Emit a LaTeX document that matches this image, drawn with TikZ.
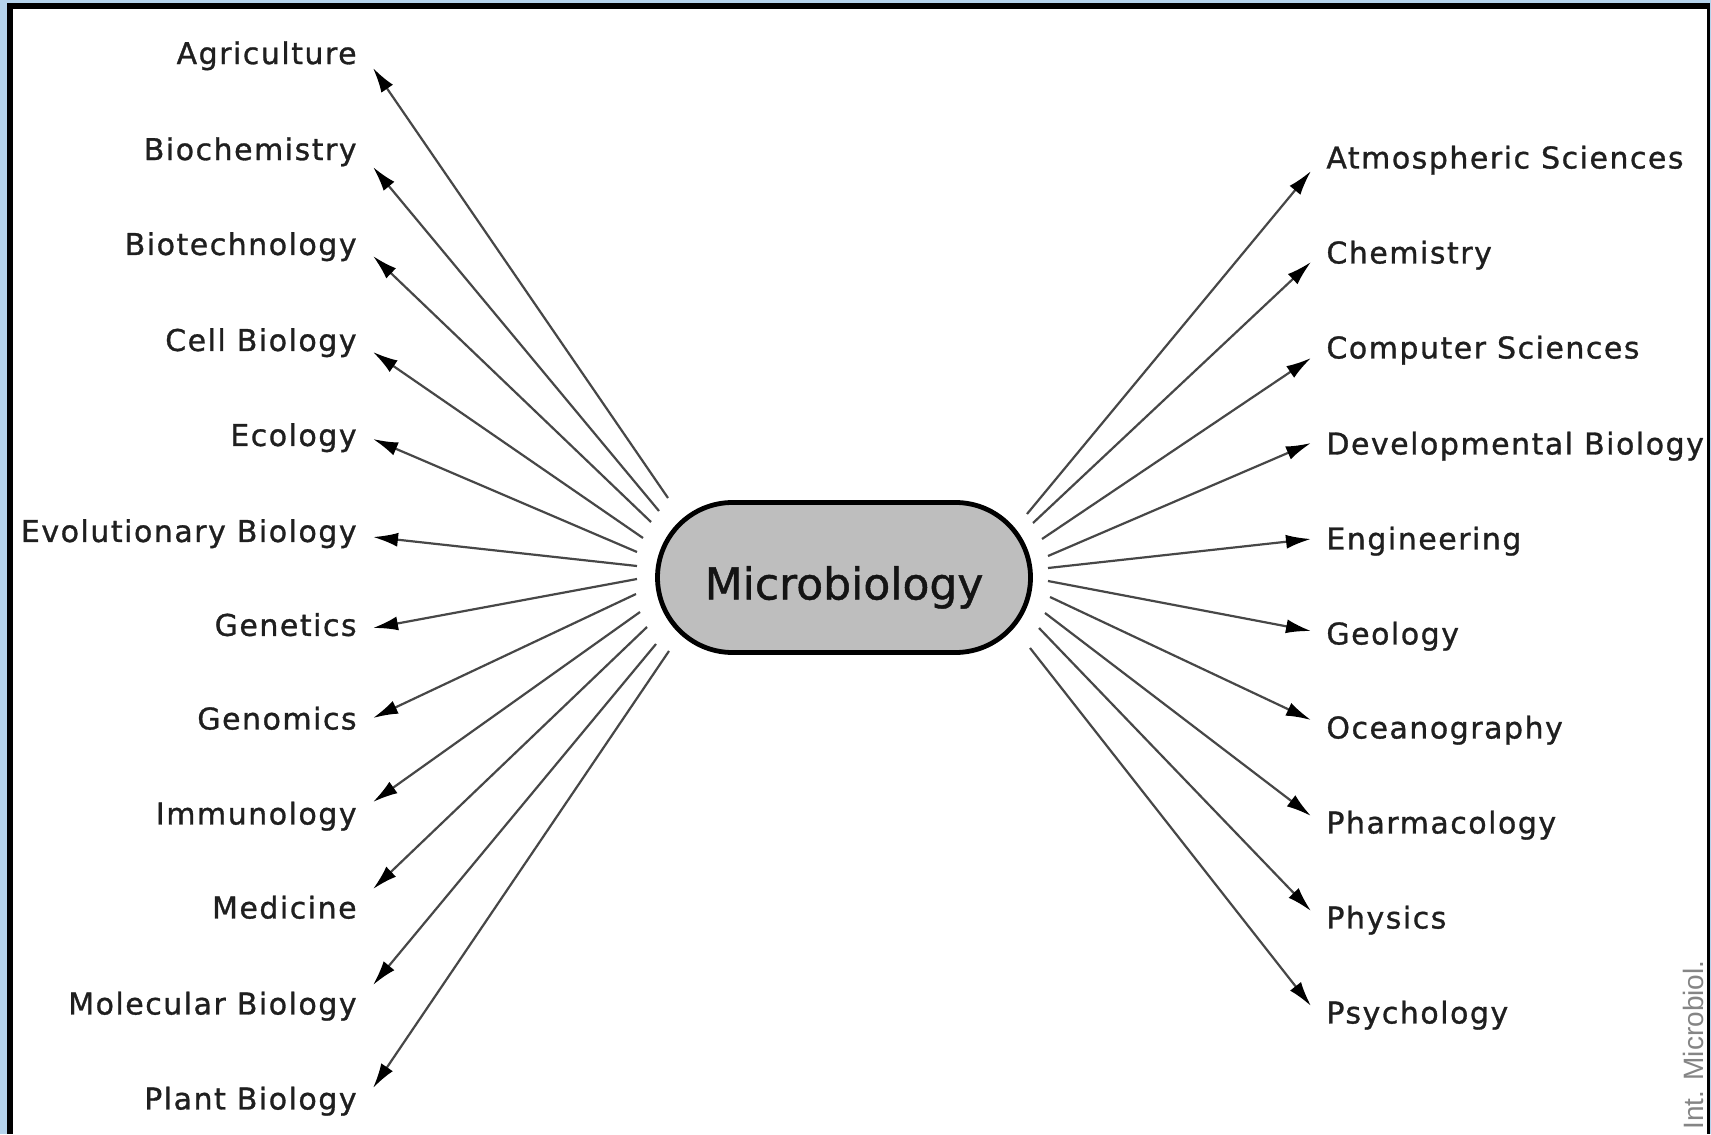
\documentclass[tikz,border=0pt]{standalone}
\usepackage{fontspec}
\setmainfont{DejaVu Sans}
\newfontfamily\labfont[LetterSpace=5,FakeBold=1]{DejaVu Sans}
\newfontfamily\hubfont[FakeBold=1]{DejaVu Sans}
\newfontfamily\srcfont{Liberation Sans}
\usetikzlibrary{arrows.meta,shapes.misc,calc}
\definecolor{frameblue}{RGB}{181,211,236}
\definecolor{nodegray}{RGB}{190,190,190}
\begin{document}
\begin{tikzpicture}[x=0.5pt,y=-0.5pt,
  lab/.style={font=\labfont\fontsize{15pt}{18pt}\selectfont, text=black!88, inner sep=0pt},
  arr/.style={-{Latex[length=12.5pt,width=7pt,color=black]}, line width=1.1pt, draw=black!72},
  hub/.style={rounded rectangle, draw=black, line width=2.4pt, fill=nodegray,
    minimum width=186.5pt, minimum height=75pt, inner sep=0pt,
    text height=22pt, text depth=0pt,
    font=\hubfont\fontsize{22pt}{26pt}\selectfont, text=black!92},
  srcnote/.style={font=\srcfont\fontsize{14pt}{17pt}\selectfont, text=black!48,
    rotate=90, anchor=base west, inner sep=0pt}
]
\useasboundingbox (0,0) rectangle (1711,1134);
\fill[frameblue] (0,0) rectangle (1711,1134);
\fill[black] (7,3) rectangle (1710,1134);
\fill[white] (13,9) rectangle (1707,1134);

\node[hub] (mb) at (844,577.5) {Microbiology};

\foreach \nm/\txt/\ly/\ty/\sx/\sy in {
 agr/Agriculture/54.6/68/668/498,
 bio/Biochemistry/150.6/167/659/511,
 bte/Biotechnology/245.5/256/651/522,
 cel/Cell Biology/341.5/352/643/538,
 eco/Ecology/436.5/439/637/552,
 evo/Evolutionary Biology/532.5/537/637/566,
 gen/Genetics/626.4/628/637/579,
 gno/Genomics/720/718/636/594,
 imm/Immunology/815/802/640/612,
 med/Medicine/909/889/647/627,
 mol/Molecular Biology/1005/985/656/644,
 pla/Plant Biology/1100/1088/669/651}{
  \node[lab, anchor=mid east] (\nm) at (357,\ly+4) {\txt};
  \coordinate (t-\nm) at (373,\ty);
  \coordinate (s-\nm) at (\sx,\sy);
  \draw[arr] (s-\nm) -- (t-\nm);
}

\foreach \nm/\txt/\ly/\ty/\sx/\sy in {
 atm/Atmospheric Sciences/159/171/1027/514,
 che/Chemistry/254/262/1033/523,
 com/Computer Sciences/349/358/1042/539,
 dev/Developmental Biology/445/443/1048/556,
 eng/Engineering/540/539/1048/568,
 geo/Geology/635/631/1048/581,
 oce/Oceanography/729/720/1050/597,
 pha/Pharmacology/824/816/1045/613,
 phy/Physics/919/911/1039/628,
 psy/Psychology/1014/1006/1030/648}{
  \node[lab, anchor=mid west] (\nm) at (1326,\ly+4) {\txt};
  \coordinate (t-\nm) at (1311,\ty);
  \coordinate (s-\nm) at (\sx,\sy);
  \draw[arr] (s-\nm) -- (t-\nm);
}

\node[srcnote] (src) at (1703,1130) {Int. Microbiol.};
\end{tikzpicture}
\end{document}
